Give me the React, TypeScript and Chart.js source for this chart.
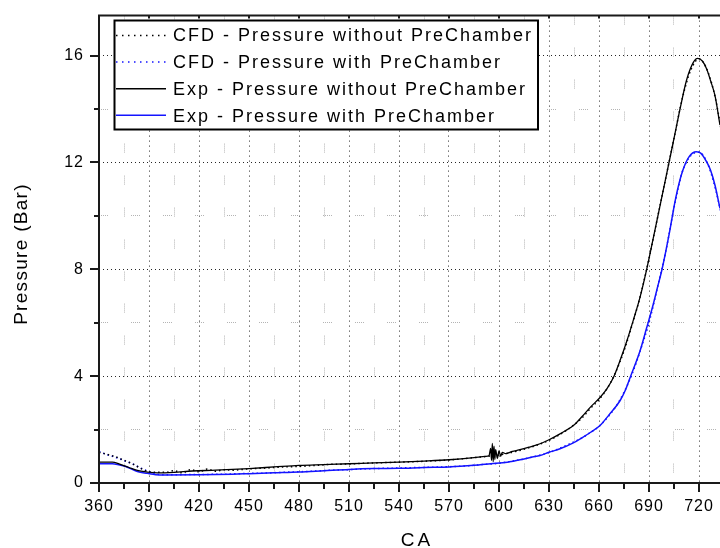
import React, { useEffect, useRef } from 'react';
import { Chart, registerables } from 'chart.js';
Chart.register(...registerables);

// ---- data (crank angle CA, pressure in bar) ----
const seriesLabels = [
  'CFD - Pressure without PreChamber',
  'CFD - Pressure with PreChamber',
  'Exp - Pressure without PreChamber',
  'Exp - Pressure with PreChamber',
];

const cfdCA = [360, 365, 370, 375, 380, 385, 390, 395, 400, 405, 410, 415, 420, 425, 430, 435, 440,
  450, 460, 470, 480, 490, 500, 510, 520, 530, 540, 550, 560, 570, 580, 590, 600, 610, 620, 630, 640, 650,
  655, 660, 665, 670, 675, 680, 685, 690, 695, 700, 705, 710, 715, 720, 725, 730, 736];
const cfdWithout = [1.15, 1.07, 0.98, 0.85, 0.72, 0.55, 0.42, 0.40, 0.40, 0.46, 0.38, 0.50, 0.42, 0.52, 0.44, 0.50, 0.48,
  0.53, 0.56, 0.60, 0.62, 0.66, 0.70, 0.71, 0.74, 0.76, 0.78, 0.80, 0.83, 0.86, 0.92, 0.98, 1.05, 1.18, 1.36, 1.60, 1.95, 2.45,
  2.8, 3.12, 3.55, 4.15, 4.95, 5.95, 7.05, 8.4, 9.9, 11.4, 12.9, 14.4, 15.45, 15.88, 15.45, 14.35, 12.2];
const cfdWith = [1.18, 1.06, 0.96, 0.84, 0.72, 0.56, 0.42, 0.33, 0.31, 0.31, 0.31, 0.32, 0.32, 0.32, 0.33, 0.33, 0.34,
  0.36, 0.37, 0.40, 0.42, 0.45, 0.48, 0.50, 0.53, 0.55, 0.56, 0.58, 0.59, 0.61, 0.64, 0.69, 0.74, 0.84, 0.97, 1.14, 1.40, 1.70,
  1.9, 2.12, 2.45, 2.85, 3.4, 4.1, 5.0, 6.0, 7.3, 8.65, 10.3, 11.65, 12.25, 12.38, 11.98, 10.98, 9.3];

const expWithoutCA = [360, 368, 372, 378, 383, 389, 395, 405, 416, 430, 450, 465, 480, 495, 510, 525, 540, 555, 570, 585,
  592, 594, 595, 595.5, 596, 596.5, 597, 597.5, 598, 599, 600, 601, 602, 604, 608, 612, 618, 624.6, 630, 636.6,
  644.6, 650, 655, 660.6, 665, 669, 673, 676.6, 680.6, 684.6, 688.6, 692, 696, 700, 702, 705, 708.6, 712.6, 716.6, 719.2,
  722, 724.6, 727, 729.6, 732.6, 736];
const expWithout = [0.78, 0.78, 0.72, 0.58, 0.47, 0.41, 0.38, 0.40, 0.45, 0.48, 0.54, 0.60, 0.66, 0.69, 0.72, 0.75, 0.78, 0.82, 0.87, 0.95,
  1.00, 1.02, 1.30, 0.85, 1.48, 0.80, 1.38, 0.88, 1.25, 0.92, 1.20, 1.00, 1.15, 1.10, 1.18, 1.24, 1.34, 1.47, 1.62, 1.84,
  2.15, 2.5, 2.85, 3.2, 3.55, 4.0, 4.65, 5.3, 6.1, 6.95, 8.0, 9.0, 10.2, 11.4, 12.0, 12.9, 14.0, 15.1, 15.75, 15.9,
  15.8, 15.5, 15.05, 14.5, 13.4, 12.2];

const expWithCA = [360, 368, 372, 376, 383, 389, 394, 400, 420, 440, 450, 465, 480, 495, 510, 525, 540, 555, 570, 585,
  595, 605, 612.6, 620, 624.6, 630, 636.6, 644.6, 650, 655, 660.6, 666, 672.6, 676, 679, 684.6, 688.6, 692, 695, 698,
  702, 706, 710, 714, 718.4, 721, 724.6, 727, 729.6, 732.6, 736];
const expWith = [0.72, 0.72, 0.68, 0.62, 0.43, 0.36, 0.31, 0.30, 0.31, 0.33, 0.35, 0.38, 0.41, 0.46, 0.51, 0.54, 0.55, 0.58, 0.60, 0.66,
  0.72, 0.78, 0.87, 0.97, 1.03, 1.15, 1.28, 1.5, 1.7, 1.9, 2.15, 2.55, 3.08, 3.5, 4.0, 4.94, 5.81, 6.56, 7.3, 8.05,
  9.29, 10.66, 11.65, 12.21, 12.4, 12.35, 12.02, 11.7, 11.15, 10.28, 9.3];

const xMin = 360;
const xMax = 732.6;
const xStep = 15;
const xMajor = 30;
const yMin = 0;
const yMax = 17.5;
const yStep = 2;
const yMajor = 4;

const FONT = '"Liberation Sans", Arial, sans-serif';
const BLUE = '#1414ff';

function pts(xs: number[], ys: number[]) {
  return xs.map((x, i) => ({ x, y: ys[i] }));
}

const isMajor = (v: number, m: number) => Math.abs(v / m - Math.round(v / m)) < 1e-6;

const decorPlugin = {
  id: 'decor',
  beforeDraw(chart: any) {
    (chart.ctx as any).letterSpacing = '1px';
  },
  afterDraw(chart: any) {
    const { ctx, chartArea: a, scales } = chart;
    const xs = scales.x;
    const ys = scales.y;
    ctx.save();
    ctx.setLineDash([]);
    ctx.strokeStyle = '#1a1a1a';
    ctx.lineWidth = 2;
    ctx.beginPath();
    // axes frame (top, left, bottom)
    ctx.moveTo(a.left - 1, a.top);
    ctx.lineTo(a.right + 4, a.top);
    ctx.moveTo(a.left, a.top - 1);
    ctx.lineTo(a.left, a.bottom + 1);
    ctx.moveTo(a.left - 1, a.bottom);
    ctx.lineTo(a.right + 4, a.bottom);
    // x ticks
    xs.ticks.forEach((t: any) => {
      const px = Math.round(xs.getPixelForValue(t.value));
      const major = isMajor(t.value, xMajor);
      ctx.moveTo(px, a.bottom);
      ctx.lineTo(px, a.bottom + (major ? 9 : 6));
      if (major) {
        ctx.moveTo(px, a.top);
        ctx.lineTo(px, a.top + 3);
      }
    });
    // y ticks
    ys.ticks.forEach((t: any) => {
      const py = Math.round(ys.getPixelForValue(t.value));
      const major = isMajor(t.value, yMajor);
      ctx.moveTo(a.left, py);
      ctx.lineTo(a.left - (major ? 9 : 5), py);
    });
    ctx.stroke();

    // legend box
    const lx = 114.5, ly = 20.5, lw = 423.5, lh = 109;
    ctx.fillStyle = '#ffffff';
    ctx.fillRect(lx, ly, lw, lh);
    ctx.strokeStyle = '#000000';
    ctx.lineWidth = 2;
    ctx.strokeRect(lx, ly, lw, lh);
    ctx.font = '18px ' + FONT;
    (ctx as any).letterSpacing = '2px';
    ctx.textAlign = 'left';
    ctx.textBaseline = 'alphabetic';
    chart.data.datasets.forEach((ds: any, i: number) => {
      const sy = 35.5 + 26.6 * i;
      ctx.beginPath();
      ctx.strokeStyle = ds.borderColor;
      ctx.lineWidth = 1.5;
      ctx.setLineDash(ds.borderDash ? [1.5, 4.5] : []);
      ctx.moveTo(116, sy);
      ctx.lineTo(166, sy);
      ctx.stroke();
      ctx.setLineDash([]);
      ctx.fillStyle = '#000000';
      ctx.fillText(ds.label, 173, 40.8 + 27.2 * i);
    });

    // axis titles
    ctx.font = '19px ' + FONT;
    ctx.fillStyle = '#000000';
    (ctx as any).letterSpacing = '1.3px';
    ctx.save();
    ctx.translate(26.5, 254);
    ctx.rotate(-Math.PI / 2);
    ctx.textAlign = 'center';
    ctx.fillText('Pressure (Bar)', 0, 0);
    ctx.restore();
    (ctx as any).letterSpacing = '3px';
    ctx.textAlign = 'center';
    ctx.fillText('CA', 417, 545.5);
    ctx.restore();
  },
};

export default function App() {
  const ref = useRef<HTMLCanvasElement | null>(null);
  useEffect(() => {
    if (!ref.current) return;
    const chart = new Chart(ref.current, {
      type: 'line',
      data: {
        datasets: [
          {
            label: seriesLabels[0],
            data: pts(cfdCA, cfdWithout),
            borderColor: '#000000',
            borderWidth: 1.5,
            borderDash: [1.5, 3],
            pointRadius: 0,
            cubicInterpolationMode: 'monotone',
            fill: false,
          },
          {
            label: seriesLabels[1],
            data: pts(cfdCA, cfdWith),
            borderColor: BLUE,
            borderWidth: 1.5,
            borderDash: [1.5, 3],
            pointRadius: 0,
            cubicInterpolationMode: 'monotone',
            fill: false,
          },
          {
            label: seriesLabels[2],
            data: pts(expWithoutCA, expWithout),
            borderColor: '#000000',
            borderWidth: 1.3,
            pointRadius: 0,
            cubicInterpolationMode: 'monotone',
            fill: false,
          },
          {
            label: seriesLabels[3],
            data: pts(expWithCA, expWith),
            borderColor: BLUE,
            borderWidth: 1.5,
            pointRadius: 0,
            cubicInterpolationMode: 'monotone',
            fill: false,
          },
        ],
      } as any,
      options: {
        responsive: false,
        animation: false,
        events: [],
        layout: { padding: { top: 13, right: 0, left: 0, bottom: 0 } },
        plugins: { legend: { display: false }, tooltip: { enabled: false } },
        scales: {
          x: {
            type: 'linear',
            min: xMin,
            max: xMax,
            afterFit: (s: any) => { s.height = 65; },
            ticks: {
              stepSize: xStep,
              includeBounds: false,
              autoSkip: false,
              maxRotation: 0,
              minRotation: 0,
              padding: 5,
              color: '#000000',
              font: { family: FONT, size: 16 },
              callback: (v: any) => (isMajor(Number(v), xMajor) ? String(v) : ''),
            },
            grid: {
              color: (c: any) => (c.tick && isMajor(c.tick.value, xMajor) ? 'rgba(0,0,0,0.85)' : '#b4b4b4'),
              lineWidth: 1,
              tickLength: 9,
              tickColor: 'rgba(0,0,0,0)',
            },
            border: {
              display: false,
              dash: (c: any) => (c.tick && isMajor(c.tick.value, xMajor) ? [1, 4] : [1, 1, 1, 1, 1, 1, 1, 1, 1, 23]),
            },
          },
          y: {
            type: 'linear',
            min: yMin,
            max: yMax,
            afterFit: (s: any) => { s.width = 99; },
            ticks: {
              stepSize: yStep,
              includeBounds: false,
              autoSkip: false,
              padding: 6,
              color: '#000000',
              font: { family: FONT, size: 16 },
              callback: (v: any) => (isMajor(Number(v), yMajor) ? String(v) : ''),
            },
            grid: {
              color: (c: any) => (c.tick && isMajor(c.tick.value, yMajor) ? 'rgba(0,0,0,0.85)' : '#b4b4b4'),
              lineWidth: 1,
              tickLength: 9,
              tickColor: 'rgba(0,0,0,0)',
            },
            border: {
              display: false,
              dash: (c: any) => (c.tick && isMajor(c.tick.value, yMajor) ? [1, 3] : [1, 1, 1, 1, 1, 1, 1, 1, 1, 23]),
            },
          },
        },
      } as any,
      plugins: [decorPlugin],
    });
    return () => chart.destroy();
  }, []);
  return (
    <div style={{ position: 'absolute', left: 0, top: 0, width: 720, height: 548, background: '#fff' }}>
      <canvas ref={ref} width={720} height={548} />
    </div>
  );
}
